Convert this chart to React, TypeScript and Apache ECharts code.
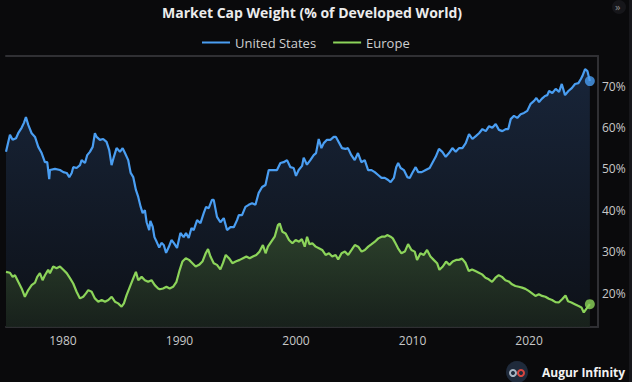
import React, { useEffect, useRef } from "react";
import * as echarts from "echarts";

const usYears = [1975.11,1975.45,1975.68,1975.97,1976.16,1976.45,1976.65,1976.82,1977.02,1977.31,1977.6,1977.88,1978.17,1978.45,1978.65,1978.82,1978.88,1979.31,1979.74,1980.03,1980.32,1980.54,1980.75,1980.88,1981.17,1981.46,1981.6,1981.89,1982.08,1982.31,1982.55,1982.74,1982.89,1983.17,1983.45,1983.74,1983.97,1984.17,1984.37,1984.6,1984.89,1985.12,1985.32,1985.6,1985.81,1986.03,1986.26,1986.46,1986.67,1986.84,1987.03,1987.18,1987.4,1987.5,1987.7,1987.85,1988.05,1988.26,1988.45,1988.65,1988.85,1989.08,1989.31,1989.51,1989.79,1990.08,1990.36,1990.56,1990.79,1991.03,1991.22,1991.51,1991.8,1992.08,1992.28,1992.51,1992.79,1992.94,1993.22,1993.51,1993.8,1994.08,1994.37,1994.66,1994.94,1995.09,1995.37,1995.66,1995.94,1996.23,1996.52,1996.8,1997.09,1997.38,1997.66,1997.94,1998.37,1998.66,1998.94,1999.23,1999.52,1999.8,2000.0,2000.23,2000.52,2000.66,2000.94,2001.23,2001.52,2001.72,2001.95,2002.18,2002.38,2002.66,2002.95,2003.24,2003.43,2003.66,2003.95,2004.24,2004.46,2004.75,2005.04,2005.32,2005.61,2005.9,2006.19,2006.48,2006.76,2007.05,2007.34,2007.62,2007.91,2008.12,2008.4,2008.6,2008.77,2008.98,2009.26,2009.55,2009.76,2009.98,2010.27,2010.49,2010.79,2011.13,2011.47,2011.7,2011.99,2012.27,2012.56,2012.85,2013.13,2013.42,2013.71,2013.99,2014.28,2014.57,2014.85,2015.14,2015.43,2015.71,2016.0,2016.29,2016.57,2016.85,2017.14,2017.42,2017.71,2018.0,2018.22,2018.43,2018.71,2018.99,2019.28,2019.57,2019.85,2020.14,2020.43,2020.63,2020.86,2021.09,2021.37,2021.57,2021.72,2022.0,2022.29,2022.58,2022.81,2023.09,2023.38,2023.67,2023.95,2024.24,2024.45,2024.58,2024.81,2025.01,2025.22];
const usValues = [54.1,58.2,57.0,57.4,58.6,59.9,61.1,62.5,60.6,58.6,57.7,55.3,53.8,51.6,51.6,47.5,49.7,50.0,49.7,49.2,49.0,48.0,49.0,50.4,50.2,50.9,52.1,51.4,53.3,54.1,55.3,58.6,57.7,57.0,57.2,56.5,54.5,50.9,52.9,55.0,54.1,55.0,53.8,52.1,49.0,48.0,44.9,43.2,40.8,39.3,40.0,37.1,35.2,37.4,36.0,33.5,32.3,31.0,32.1,31.6,29.7,31.1,32.8,32.1,30.9,34.5,33.5,34.5,33.3,35.7,35.2,37.6,36.9,39.3,40.8,40.5,42.5,42.5,38.4,37.1,38.1,35.2,35.9,35.9,37.6,38.8,38.8,40.8,41.3,41.7,41.3,44.2,45.6,46.1,49.7,49.7,49.7,51.4,51.6,52.1,50.4,50.2,48.3,49.7,50.7,52.7,51.0,52.1,53.3,53.8,57.2,55.0,56.2,57.0,57.0,57.7,57.7,56.5,55.0,54.8,55.0,53.3,52.1,53.8,51.6,52.1,49.7,49.7,49.2,48.5,47.8,47.8,47.3,46.8,47.8,50.4,51.4,50.2,49.7,48.0,47.8,49.0,50.4,49.2,49.2,49.7,50.2,51.4,52.9,54.8,54.1,52.9,53.8,55.0,54.1,55.0,55.0,56.2,58.4,57.2,57.9,58.6,59.6,59.1,60.3,59.9,60.8,59.4,59.1,59.6,59.6,62.0,62.8,62.3,63.2,63.5,64.0,65.7,66.4,67.1,66.1,66.9,67.6,67.8,68.8,68.3,69.3,68.6,70.5,67.8,68.8,69.5,70.5,70.7,71.7,72.4,74.1,73.6,71.2];

const euYears = [1975.11,1975.45,1975.68,1975.88,1976.16,1976.45,1976.73,1977.02,1977.31,1977.6,1977.79,1978.02,1978.25,1978.45,1978.73,1978.88,1979.16,1979.45,1979.74,1980.03,1980.32,1980.6,1980.88,1981.17,1981.46,1981.74,1981.97,1982.17,1982.46,1982.74,1983.03,1983.32,1983.61,1983.89,1984.18,1984.46,1984.74,1985.03,1985.23,1985.46,1985.74,1985.97,1986.26,1986.46,1986.75,1987.03,1987.31,1987.6,1987.88,1988.17,1988.31,1988.59,1988.88,1989.16,1989.45,1989.74,1990.02,1990.25,1990.54,1990.82,1991.11,1991.39,1991.68,1991.97,1992.25,1992.45,1992.66,1992.94,1993.22,1993.51,1993.73,1993.97,1994.25,1994.54,1994.82,1995.17,1995.45,1995.74,1996.02,1996.3,1996.59,1996.87,1997.16,1997.39,1997.59,1997.88,1998.17,1998.45,1998.6,1998.83,1999.11,1999.4,1999.69,1999.97,2000.26,2000.5,2000.75,2000.95,2001.15,2001.4,2001.69,2001.97,2002.25,2002.54,2002.83,2003.11,2003.4,2003.62,2003.91,2004.2,2004.48,2004.77,2005.05,2005.34,2005.63,2005.91,2006.2,2006.49,2006.77,2007.06,2007.35,2007.63,2007.83,2008.12,2008.31,2008.54,2008.76,2009.05,2009.34,2009.62,2009.91,2010.19,2010.39,2010.68,2010.97,2011.25,2011.54,2011.82,2012.11,2012.31,2012.6,2012.88,2013.17,2013.45,2013.74,2013.97,2014.25,2014.54,2014.83,2015.11,2015.4,2015.69,2015.97,2016.26,2016.54,2016.83,2017.12,2017.4,2017.68,2017.97,2018.26,2018.54,2018.83,2019.12,2019.4,2019.69,2019.97,2020.26,2020.55,2020.84,2021.12,2021.41,2021.7,2021.98,2022.27,2022.55,2022.84,2023.13,2023.35,2023.64,2023.93,2024.21,2024.5,2024.7,2024.9,2025.22];
const euValues = [25.1,24.9,23.9,24.3,22.7,21.1,19.1,20.7,21.9,22.5,23.9,24.8,23.1,24.3,25.6,24.8,26.4,26.0,26.4,25.6,24.8,23.6,22.3,20.3,18.7,19.1,19.9,20.7,20.3,18.7,17.9,18.3,17.9,18.3,19.1,17.9,17.5,16.7,17.5,19.5,21.5,23.1,25.1,23.1,23.9,23.1,22.7,23.1,21.9,21.1,20.9,21.1,21.5,21.1,21.5,22.7,25.6,27.6,28.4,28.0,27.2,26.4,26.8,27.6,29.6,30.6,28.8,27.2,26.8,25.7,27.2,29.2,28.4,27.2,27.6,28.0,28.4,28.8,28.4,28.8,29.2,30.0,31.6,29.6,31.2,32.4,33.6,36.4,36.8,34.8,34.4,32.8,32.0,32.8,32.4,33.0,31.2,33.6,31.8,32.0,31.2,30.8,30.4,29.2,29.6,28.8,29.2,28.1,29.6,30.0,29.2,30.4,31.6,31.2,30.0,30.4,31.2,31.8,32.4,33.2,33.6,33.6,34.0,33.6,33.2,32.0,30.8,29.6,30.0,31.8,30.4,30.0,28.0,29.6,29.2,30.4,28.8,28.0,27.2,25.6,26.4,27.6,26.8,27.6,28.0,28.0,28.3,27.3,25.3,25.7,25.3,24.9,24.5,23.7,23.3,22.7,23.7,24.3,23.9,23.1,22.8,22.1,21.7,21.5,21.3,21.0,20.5,19.9,19.3,19.7,19.3,19.1,18.6,18.3,17.8,17.7,18.5,19.4,18.0,17.7,17.3,16.9,16.5,15.3,16.1,17.3];

const seriesNames = ["United States", "Europe"];
const xTickYears = [1980, 1990, 2000, 2010, 2020];
const titleText = "Market Cap Weight (% of Developed World)";

const X_MIN = 1975.11;
const X_MAX = 2025.92;
const Y_MIN = 11.79;
const Y_MAX = 77.25;

const US_COLOR = "#4a9ef2";
const EU_COLOR = "#8cd45a";

export default function App() {
  const ref = useRef<HTMLDivElement>(null);
  useEffect(() => {
    if (!ref.current) return;
    const chart = echarts.init(ref.current, null, { renderer: "svg" });
    const usData = usYears.map((y, i) => [y, usValues[i]]);
    const euData = euYears.map((y, i) => [y, euValues[i]]);
    const usLast = usData[usData.length - 1];
    const euLast = euData[euData.length - 1];
    const font = "'Open Sans', 'Noto Sans', sans-serif";
    chart.setOption({
      animation: false,
      backgroundColor: "#0a0a0c",
      textStyle: { fontFamily: font },
      title: {
        text: titleText,
        left: 157,
        top: 0,
        textStyle: { color: "#ececec", fontSize: 14, fontWeight: "bold", fontFamily: font },
      },
      legend: {
        data: seriesNames,
        top: 31,
        left: 197,
        icon: "rect",
        itemWidth: 28,
        itemHeight: 2,
        itemGap: 17,
        textStyle: { color: "#cfcfcf", fontSize: 13, fontFamily: font },
      },
      grid: { left: 6, right: 34, top: 56, bottom: 55, containLabel: false },
      xAxis: [
        {
          type: "value",
          min: X_MIN,
          max: X_MAX,
          splitNumber: 5,
          axisLine: { show: true, lineStyle: { color: "#2f2f33", width: 2 } },
          axisTick: { show: false },
          splitLine: { show: false },
          axisLabel: {
            color: "#c8c8c8",
            fontSize: 12,
            margin: 7,
            showMinLabel: false,
            showMaxLabel: false,
            formatter: (v: number) => (xTickYears.includes(Math.round(v)) ? String(Math.round(v)) : ""),
          },
        },
        {
          type: "value",
          position: "top",
          min: X_MIN,
          max: X_MAX,
          axisLine: { show: true, lineStyle: { color: "#303034", width: 2 } },
          axisTick: { show: false },
          axisLabel: { show: false },
          splitLine: { show: false },
        },
      ],
      yAxis: {
        type: "value",
        position: "right",
        min: Y_MIN,
        max: Y_MAX,
        splitNumber: 5,
        axisLine: { show: true, lineStyle: { color: "#303034", width: 2 } },
        axisTick: { show: false },
        splitLine: { show: false },
        axisLabel: {
          color: "#c8c8c8",
          fontSize: 12,
          margin: 4,
          showMinLabel: false,
          showMaxLabel: false,
          formatter: (v: number) => `${Math.round(v)}%`,
        },
      },
      series: [
        {
          name: seriesNames[0],
          type: "line",
          data: usData,
          showSymbol: false,
          symbol: "none",
          lineStyle: { color: US_COLOR, width: 2.2 },
          itemStyle: { color: US_COLOR },
          areaStyle: {
            color: new echarts.graphic.LinearGradient(0, 0, 0, 1, [
              { offset: 0, color: "#1e304c" },
              { offset: 1, color: "#0f141d" },
            ]),
          },
          z: 2,
        },
        {
          name: seriesNames[1],
          type: "line",
          data: euData,
          showSymbol: false,
          symbol: "none",
          lineStyle: { color: EU_COLOR, width: 2.2 },
          itemStyle: { color: EU_COLOR },
          areaStyle: {
            color: new echarts.graphic.LinearGradient(0, 0, 0, 1, [
              { offset: 0, color: "#38532f" },
              { offset: 1, color: "#1c271d" },
            ]),
          },
          z: 3,
        },
        {
          type: "scatter",
          data: [
            { value: usLast, itemStyle: { color: US_COLOR } },
            { value: euLast, itemStyle: { color: EU_COLOR } },
          ],
          symbolSize: 10,
          z: 5,
          silent: true,
        },
      ],
      graphic: [
        { type: "rect", shape: { x: 629, y: 0, width: 3, height: 382 }, style: { fill: "#17171b" } },
        { type: "circle", shape: { cx: 619, cy: 7, r: 7 }, style: { fill: "#16161a" } },
        { type: "text", x: 615, y: 1, style: { text: "»", fill: "#8a8a8a", fontSize: 11, fontFamily: font } },
        { type: "circle", shape: { cx: 517, cy: 372, r: 11 }, style: { fill: "#1f2a3b" } },
        { type: "ring", shape: { cx: 513, cy: 373, r: 4, r0: 2 }, style: { fill: "#a9b6c4" } },
        { type: "ring", shape: { cx: 521, cy: 373, r: 4, r0: 2 }, style: { fill: "#d9463f" } },
        {
          type: "text",
          x: 542,
          y: 366,
          style: { text: "Augur Infinity", fill: "#f2f2f2", fontSize: 12, fontWeight: "bold", fontFamily: font },
        },
      ],
    });
    return () => chart.dispose();
  }, []);
  return <div ref={ref} style={{ position: "fixed", left: 0, top: 0, width: 632, height: 382 }} />;
}
